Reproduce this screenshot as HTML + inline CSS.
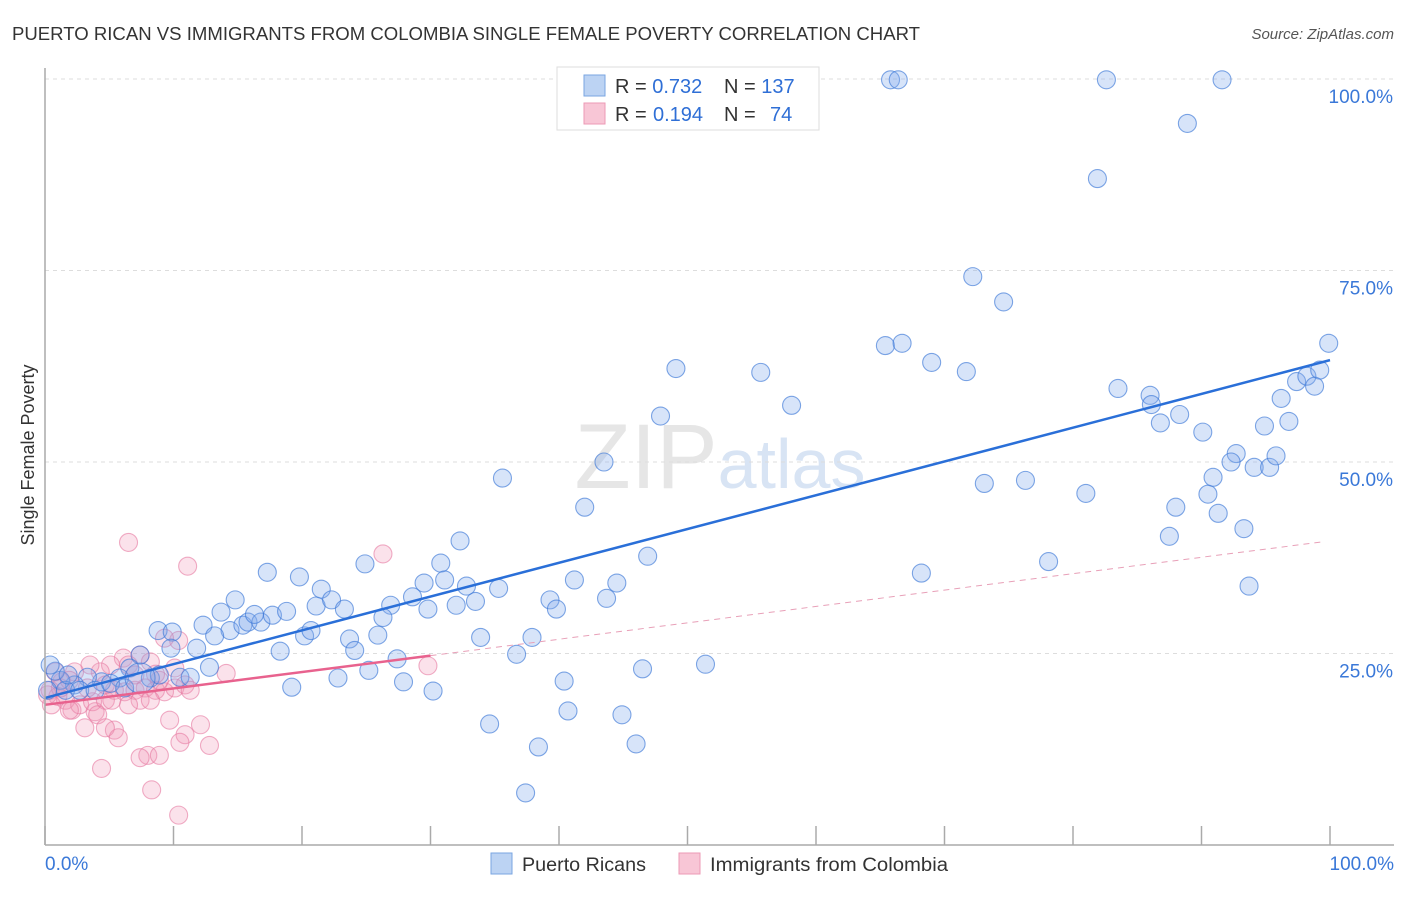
<!DOCTYPE html>
<html><head><meta charset="utf-8"><style>
body{margin:0;background:#fff;font-family:"Liberation Sans",sans-serif;}
svg text{font-family:"Liberation Sans",sans-serif;}
</style></head><body>
<svg id="chart" width="1406" height="892" xmlns="http://www.w3.org/2000/svg">
<text x="12" y="40" font-size="18" fill="#333" textLength="908" lengthAdjust="spacingAndGlyphs">PUERTO RICAN VS IMMIGRANTS FROM COLOMBIA SINGLE FEMALE POVERTY CORRELATION CHART</text>
<text x="1394" y="39" font-size="15" fill="#555" font-style="italic" text-anchor="end">Source: ZipAtlas.com</text>
<text x="720" y="488" font-size="92" fill="#e6e6e6" text-anchor="middle" font-family="Liberation Serif">ZIP<tspan fill="#d8e4f4" font-family="Liberation Sans" font-size="70">atlas</tspan></text>
<g id="grid"></g><g id="pinkPts"></g><g id="bluePts"></g><g id="lines"></g><g id="axes"></g>
<text transform="translate(34,455) rotate(-90)" font-size="18" fill="#333" text-anchor="middle">Single Female Poverty</text>
<g>
<rect x="557" y="67" width="262" height="63" fill="#fff" stroke="#ddd"/>
<rect x="584" y="75" width="21" height="21" fill="#bcd3f3" stroke="#7aa6e2"/>
<rect x="584" y="103" width="21" height="21" fill="#f8c6d6" stroke="#ec9ab5"/>
<text x="615" y="93" font-size="20" fill="#333">R = <tspan fill="#2f6fd6">0.732</tspan></text>
<text x="724" y="93" font-size="20" fill="#333">N = <tspan fill="#2f6fd6">137</tspan></text>
<text x="615" y="121" font-size="20" fill="#333">R = <tspan fill="#2f6fd6" x="653">0.194</tspan></text>
<text x="724" y="121" font-size="20" fill="#333">N = <tspan fill="#2f6fd6" x="770">74</tspan></text>
</g>
<g>
<rect x="491" y="853" width="21" height="21" fill="#bcd3f3" stroke="#7aa6e2"/>
<text x="522" y="871" font-size="19" fill="#333" textLength="124" lengthAdjust="spacingAndGlyphs">Puerto Ricans</text>
<rect x="679" y="853" width="21" height="21" fill="#f8c6d6" stroke="#ec9ab5"/>
<text x="710" y="871" font-size="19" fill="#333" textLength="238" lengthAdjust="spacingAndGlyphs">Immigrants from Colombia</text>
</g>
</svg>
<script>
const xTicks=[0,10,20,30,40,50,60,70,80,90,100];
const yTicks=[25,50,75,100];
const blueX=[65.8,66.4,82.6,91.6,88.9,81.9,72.2,74.6,99.9,65.4,66.7,69.0,71.7,49.1,55.7,58.1,83.5,86.0,86.1,88.3,86.8,90.1,94.9,96.8,96.2,97.4,98.2,99.2,98.8,92.7,92.3,94.1,95.3,95.8,90.9,90.5,91.3,88.0,87.5,93.3,93.7,73.1,76.3,81.0,78.1,68.2,47.9,43.5,35.6,42.0,32.3,30.8,24.9,46.9,44.5,41.2,39.3,39.8,43.7,35.3,33.5,32.0,32.8,31.1,29.5,28.6,29.8,26.9,26.3,25.9,23.7,24.1,21.1,21.5,22.3,23.3,19.8,17.3,14.8,13.7,14.4,15.4,15.8,16.8,16.3,17.7,18.8,12.3,13.2,8.8,9.9,11.8,9.8,7.4,12.8,18.3,20.2,20.7,27.4,25.2,22.8,19.2,27.9,30.2,33.9,36.7,37.9,40.4,40.7,44.9,46.5,51.4,34.6,38.4,37.4,46.0,10.5,11.3,8.2,8.9,6.6,5.8,4.4,3.3,2.3,1.2,0.8,0.4,0.2,1.6,2.7,3.9,5.1,6.2,1.8,7.4];
const blueY=[99.9,99.9,99.9,99.9,94.2,87.0,74.2,70.9,65.5,65.2,65.5,63.0,61.8,62.2,61.7,57.4,59.6,58.7,57.5,56.2,55.1,53.9,54.7,55.3,58.3,60.5,61.2,62.0,59.9,51.1,50.0,49.3,49.3,50.8,48.0,45.8,43.3,44.1,40.3,41.3,33.8,47.2,47.6,45.9,37.0,35.5,56.0,50.0,47.9,44.1,39.7,36.8,36.7,37.7,34.2,34.6,32.0,30.8,32.2,33.5,31.8,31.3,33.8,34.6,34.2,32.4,30.8,31.3,29.7,27.4,26.9,25.4,31.2,33.4,32.0,30.8,35.0,35.6,32.0,30.4,28.0,28.7,29.1,29.1,30.1,30.0,30.5,28.7,27.3,28.0,27.8,25.7,25.7,24.8,23.2,25.3,27.3,28.0,24.3,22.8,21.8,20.6,21.3,20.1,27.1,24.9,27.1,21.4,17.5,17.0,23.0,23.6,15.8,12.8,6.8,13.2,21.9,21.9,21.8,22.2,23.1,21.8,21.3,21.9,20.9,21.5,22.7,23.5,20.2,20.2,20.2,20.2,21.1,20.5,22.2,21.8];
const pinkX=[6.5,11.1,26.3,10.4,9.3,7.4,6.1,5.1,6.5,8.2,4.3,3.5,2.3,1.3,0.8,0.4,1.0,1.6,2.1,2.7,3.9,3.7,4.7,5.4,6.2,7.0,7.8,8.6,9.3,10.1,10.9,4.7,3.3,7.4,6.5,5.2,4.1,3.1,5.4,4.7,5.7,9.7,10.9,12.1,12.8,10.5,8.0,7.4,8.9,4.4,8.3,10.4,14.1,29.8,1.2,1.9,0.2,0.5,1.9,8.2,8.9,11.3,10.1,8.6,7.0];
const pinkY=[39.5,36.4,38.0,26.7,27.0,24.8,24.4,23.5,23.5,23.9,22.6,23.5,22.6,21.3,22.6,20.2,19.4,18.9,17.6,18.3,17.4,18.7,18.9,20.2,20.0,20.2,20.5,20.2,20.0,20.5,20.9,20.9,20.5,18.9,18.3,18.9,17.0,15.3,15.0,15.3,14.0,16.3,14.4,15.7,13.0,13.4,11.7,11.4,11.7,10.0,7.2,3.9,22.4,23.4,20.5,21.5,19.6,18.3,17.6,18.9,21.5,20.2,23.1,22.3,22.2];
const blueTrend=[19.2,63.3];
const pinkTrend=[18.3,39.7];
const X0=45,X1=1330,Y0=845,Y100=79;
const sx=v=>X0+(X1-X0)*v/100, sy=v=>Y0-(Y0-Y100)*v/100;
const NS="http://www.w3.org/2000/svg";
function mk(tag,attrs,parent){const e=document.createElementNS(NS,tag);for(const k in attrs)e.setAttribute(k,attrs[k]);parent.appendChild(e);return e;}
const grid=document.getElementById('grid'),axes=document.getElementById('axes');
yTicks.forEach(t=>{
  const l=mk('line',{x1:X0,x2:1394,y1:sy(t),y2:sy(t),stroke:'#ddd','stroke-dasharray':'4,4'},grid);
  
  
  const tx=mk('text',{x:1393,y:sy(t)+24,'font-size':19,fill:'#3a78d8','text-anchor':'end'},axes);
  tx.textContent=t.toFixed(1)+'%';
  
  
});
let a=mk('line',{x1:X0,x2:X0,y1:68,y2:Y0,stroke:'#aaa','stroke-width':1.5},axes);


a=mk('line',{x1:X0,x2:1394,y1:Y0,y2:Y0,stroke:'#aaa','stroke-width':1.5},axes);


xTicks.forEach(t=>{
  const l=mk('line',{x1:sx(t),x2:sx(t),y1:Y0,y2:Y0-19,stroke:'#aaa','stroke-width':1.5},axes);
  
  
});
[[0,'start',X0],[100,'end',1394]].forEach(([t,anc,x])=>{
  const tx=mk('text',{x:x,y:870,'font-size':19,fill:'#3a78d8','text-anchor':anc},axes);
  tx.textContent=t.toFixed(1)+'%';
  
  
});
function pts(xs,ys,g,fill,stroke,name){
  xs.forEach((x,i)=>{
    const c=mk('circle',{cx:sx(x),cy:sy(ys[i]),r:(i===xs.length-1&&name==='blue-point')?15:9,fill:fill,stroke:stroke,'stroke-width':1.1},g);
    
    
  });
}
pts(pinkX,pinkY,document.getElementById('pinkPts'),'rgba(242,150,182,0.28)','rgba(230,120,160,0.6)','pink-point');
pts(blueX,blueY,document.getElementById('bluePts'),'rgba(130,170,235,0.32)','rgba(60,120,215,0.65)','blue-point');
const lines=document.getElementById('lines');
const pAt=x=>pinkTrend[0]+(pinkTrend[1]-pinkTrend[0])*x/100;
let l=mk('line',{x1:sx(0),y1:sy(blueTrend[0]),x2:sx(100),y2:sy(blueTrend[1]),stroke:'#2a6fd8','stroke-width':2.5},lines);


l=mk('line',{x1:sx(0),y1:sy(pAt(0)),x2:sx(30),y2:sy(pAt(30)),stroke:'#e8628e','stroke-width':2.5},lines);


l=mk('line',{x1:sx(30),y1:sy(pAt(30)),x2:sx(99.6),y2:sy(pAt(99.6)),stroke:'#e8a0b8','stroke-width':1,'stroke-dasharray':'6,5'},lines);


</script>
</body></html>
